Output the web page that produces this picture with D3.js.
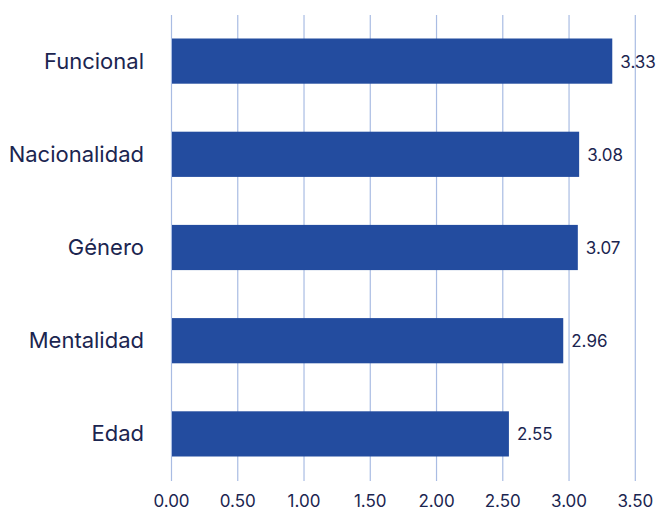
<!DOCTYPE html>
<html>
<head>
<meta charset="utf-8">
<script src="https://cdn.jsdelivr.net/npm/d3@7"></script>
<style>
  html, body { margin: 0; padding: 0; background: #ffffff; }
  svg { display: block; font-family: Inter, "Noto Sans", sans-serif; }
</style>
</head>
<body>
<svg id="chart" width="659" height="511"></svg>
<script>
// Average score per category
const categories = ["Funcional", "Nacionalidad", "Género", "Mentalidad", "Edad"];
const values = [3.33, 3.08, 3.07, 2.96, 2.55];
const tickValues = [0, 0.5, 1, 1.5, 2, 2.5, 3, 3.5];

const svg = d3.select("#chart");
const margin = { top: 15, right: 25, bottom: 30, left: 171 };
const height = 481 - margin.top;

const textColor = "#1b2550";
const barColor = "#234c9f";
const gridColor = "#a9bce3";

const x = d3.scaleLinear().domain([0, 3.5]).range([0, 463.8]);
const y = d3.scaleBand().domain(categories).range([0, height]).paddingInner(0.515).paddingOuter(0.2575);

const g = svg.append("g").attr("transform", `translate(${margin.left},${margin.top})`);

// vertical grid lines
g.append("g")
  .selectAll("line")
  .data(tickValues)
  .join("line")
  .attr("x1", d => x(d) + 0.5)
  .attr("x2", d => x(d) + 0.5)
  .attr("y1", 0)
  .attr("y2", height)
  .attr("stroke", gridColor)
  .attr("stroke-width", 1.2);

// bars
g.append("g")
  .selectAll("rect")
  .data(categories)
  .join("rect")
  .attr("x", x(0) + 1)
  .attr("y", d => y(d) - 0.5)
  .attr("height", y.bandwidth())
  .attr("width", (d, i) => x(values[i]) - x(0) - 1)
  .attr("fill", barColor);

// value labels
g.append("g")
  .selectAll("text")
  .data(categories)
  .join("text")
  .attr("x", (d, i) => x(values[i]) + 8)
  .attr("y", d => y(d) + y.bandwidth() / 2)
  .attr("dy", "0.35em")
  .attr("fill", textColor)
  .style("font-size", "17px")
  .text((d, i) => d3.format(".2f")(values[i]));

// category axis
const yAxis = g.append("g").call(d3.axisLeft(y).tickSize(0).tickPadding(27));
yAxis.select(".domain").remove();
yAxis.selectAll("text")
  .attr("fill", textColor)
  .style("font-size", "22px")
  .style("font-family", "Inter, 'Noto Sans', sans-serif");

// value axis
const xAxis = g.append("g")
  .attr("transform", `translate(0,${height})`)
  .call(d3.axisBottom(x).tickValues(tickValues).tickFormat(d3.format(".2f")).tickSize(0).tickPadding(14));
xAxis.select(".domain").remove();
xAxis.selectAll("text")
  .attr("fill", textColor)
  .style("font-size", "17px")
  .style("font-family", "Inter, 'Noto Sans', sans-serif");
</script>
</body>
</html>
